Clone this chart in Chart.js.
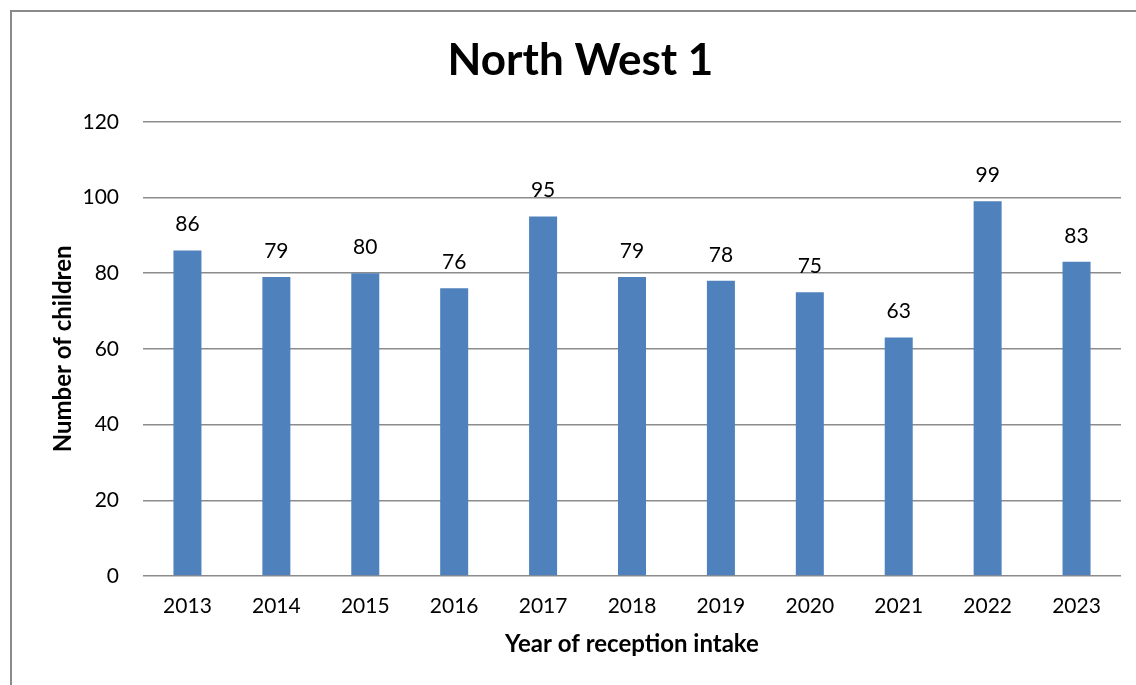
<!DOCTYPE html>
<html>
<head>
<meta charset="utf-8">
<script src="https://cdn.jsdelivr.net/npm/chart.js@4"></script>
<style>
  html, body { margin: 0; padding: 0; background: #fff; }
  #wrap { position: relative; width: 1136px; height: 685px; overflow: hidden; }
  #frame { position: absolute; left: 10px; top: 10px; width: 1200px; height: 800px;
           border-left: 2px solid #8a8a8a; border-top: 2px solid #8a8a8a; box-sizing: border-box; }
  canvas { position: absolute; left: 0; top: 0; }
</style>
</head>
<body>
<div id="wrap">
  <div id="frame"></div>
  <canvas id="c" width="1136" height="685"></canvas>
</div>
<script>
const years = ['2013','2014','2015','2016','2017','2018','2019','2020','2021','2022','2023'];
const children = [86, 79, 80, 76, 95, 79, 78, 75, 63, 99, 83];
const yTicks = [0, 20, 40, 60, 80, 100, 120];

const FONT = 'Lato, "Open Sans", sans-serif';

const valueLabels = {
  id: 'valueLabels',
  afterDatasetsDraw(chart) {
    const ctx = chart.ctx;
    ctx.save();
    ctx.font = '21px ' + FONT;
    ctx.fillStyle = '#000';
    ctx.textAlign = 'center';
    ctx.textBaseline = 'middle';
    const meta = chart.getDatasetMeta(0);
    meta.data.forEach((bar, i) => {
      ctx.fillText(String(children[i]), bar.x, bar.y - 26);
    });
    ctx.restore();
  }
};

new Chart(document.getElementById('c'), {
  type: 'bar',
  data: {
    labels: years,
    datasets: [{
      data: children,
      backgroundColor: '#4F81BD',
      borderWidth: 0,
      barPercentage: 0.315,
      categoryPercentage: 1.0
    }]
  },
  options: {
    responsive: false,
    animation: false,
    layout: { padding: { left: 40, right: 15, top: 10, bottom: 0 } },
    plugins: {
      legend: { display: false },
      tooltip: { enabled: false },
      title: {
        display: true,
        text: 'North West 1',
        color: '#000',
        font: { family: FONT, size: 44, weight: 'bold', lineHeight: 1.2 },
        padding: { top: 24, bottom: 35 }
      }
    },
    scales: {
      x: {
        grid: { display: false, drawTicks: false },
        border: { display: false },
        ticks: { color: '#000', font: { family: FONT, size: 21 }, padding: 18, maxRotation: 0 },
        title: {
          display: true,
          text: 'Year of reception intake',
          color: '#000',
          font: { family: FONT, size: 24, weight: 'bold', lineHeight: 1.2 },
          padding: { top: 0, bottom: 26 }
        },
        afterFit(scale) { scale.height = 109; }
      },
      y: {
        min: 0,
        max: 120,
        afterBuildTicks(scale) { scale.ticks = yTicks.map(v => ({ value: v })); },
        grid: { color: '#8c8c8c', lineWidth: 1.5, drawTicks: false },
        border: { display: false },
        ticks: { color: '#000', font: { family: FONT, size: 21 }, padding: 24 },
        title: {
          display: true,
          text: 'Number of children',
          color: '#000',
          font: { family: FONT, size: 24, weight: 'bold', lineHeight: 1.2 },
          padding: { top: 9, bottom: 0 }
        },
        afterFit(scale) { scale.width = 103; }
      }
    }
  },
  plugins: [valueLabels]
});
</script>
</body>
</html>
